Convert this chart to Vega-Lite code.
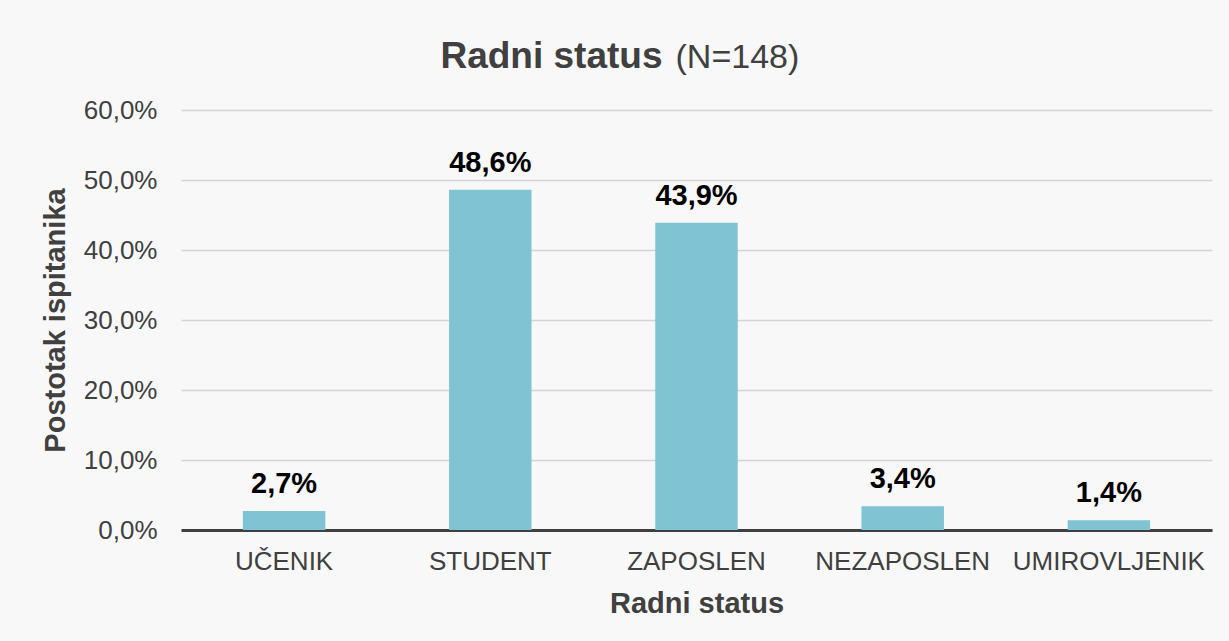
{
  "$schema": "https://vega.github.io/schema/vega-lite/v6.json",
  "width": 1031,
  "height": 420,
  "autosize": {"type": "none"},
  "padding": {"left": 181, "top": 110, "right": 17, "bottom": 111},
  "background": "#f8f8f8",
  "config": {
    "font": "Liberation Sans",
    "view": {"stroke": null},
    "locale": {"number": {"decimal": ",", "thousands": ".", "grouping": [3], "currency": ["", " kn"]}}
  },
  "layer": [
    {
      "data": {
        "values": [
          {"status": "UČENIK", "pct": 0.027},
          {"status": "STUDENT", "pct": 0.486},
          {"status": "ZAPOSLEN", "pct": 0.439},
          {"status": "NEZAPOSLEN", "pct": 0.034},
          {"status": "UMIROVLJENIK", "pct": 0.014}
        ]
      },
      "encoding": {
        "x": {
          "field": "status",
          "type": "nominal",
          "sort": null,
          "scale": {"paddingInner": 0.6, "paddingOuter": 0.3},
          "axis": {
            "title": "Radni status",
            "titleFontSize": 29,
            "titleFontWeight": "bold",
            "titleColor": "#404040",
            "titlePadding": 15,
            "labelFontSize": 26,
            "labelColor": "#404040",
            "labelAngle": 0,
            "labelPadding": 18,
            "labelLimit": 400,
            "ticks": false,
            "domainColor": "#404040",
            "domainWidth": 3,
            "grid": false
          }
        },
        "y": {
          "field": "pct",
          "type": "quantitative",
          "scale": {"domain": [0, 0.6]},
          "axis": {
            "title": "Postotak ispitanika",
            "titleFontSize": 29,
            "titleFontWeight": "bold",
            "titleColor": "#404040",
            "titlePadding": 13,
            "labelFontSize": 26,
            "labelColor": "#404040",
            "labelPadding": 24,
            "format": ".1%",
            "values": [0, 0.1, 0.2, 0.3, 0.4, 0.5, 0.6],
            "ticks": false,
            "domain": false,
            "gridColor": "#d4d4d4",
            "gridWidth": 1.5
          }
        }
      },
      "layer": [
        {"mark": {"type": "bar", "color": "#80c3d3"}},
        {
          "mark": {"type": "text", "fontSize": 29, "fontWeight": "bold", "color": "#000000", "baseline": "alphabetic", "dy": -18},
          "encoding": {"text": {"field": "pct", "type": "quantitative", "format": ".1%"}}
        }
      ]
    },
    {
      "data": {"values": [{"t": "Radni status", "u": "(N=148)"}]},
      "layer": [
        {
          "mark": {"type": "text", "fontSize": 37, "fontWeight": "bold", "color": "#404040", "align": "right", "baseline": "alphabetic", "dx": -34},
          "encoding": {"x": {"datum": "ZAPOSLEN"}, "y": {"datum": 0.66}, "text": {"field": "t", "type": "nominal"}}
        },
        {
          "mark": {"type": "text", "fontSize": 34, "fontWeight": "normal", "color": "#404040", "align": "left", "baseline": "alphabetic", "dx": -21},
          "encoding": {"x": {"datum": "ZAPOSLEN"}, "y": {"datum": 0.66}, "text": {"field": "u", "type": "nominal"}}
        }
      ]
    }
  ]
}
